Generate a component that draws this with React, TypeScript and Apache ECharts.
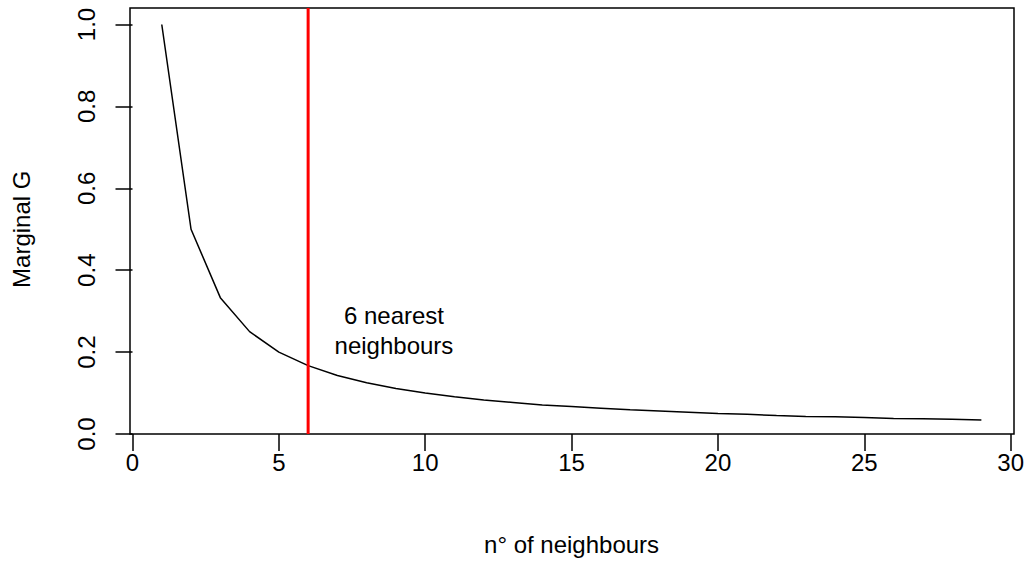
import React, { useEffect, useRef } from "react";
import * as echarts from "echarts";

const neighbours = [1, 2, 3, 4, 5, 6, 7, 8, 9, 10, 11, 12, 13, 14, 15, 16, 17, 18, 19, 20, 21, 22, 23, 24, 25, 26, 27, 28, 29];
const marginalG = [1.0, 0.5, 0.333, 0.25, 0.2, 0.167, 0.143, 0.125, 0.111, 0.1, 0.091, 0.083, 0.077, 0.071, 0.067, 0.063, 0.059, 0.056, 0.053, 0.05, 0.048, 0.045, 0.043, 0.042, 0.04, 0.038, 0.037, 0.036, 0.034];
const xTickStep = 5;
const yTickStep = 0.2;
const xRange = [0, 30];
const yRange = [0, 1];
const chosenK = 6;
const annotationText = "6 nearest\nneighbours";
const annotationPoint = [9, 0.25];
const xTitle = "n° of neighbours";
const yTitle = "Marginal G";

const FONT = "'Liberation Sans', Arial, Helvetica, sans-serif";
const BOX = { left: 130, top: 8, right: 1014, bottom: 434 };

export default function App() {
  const ref = useRef<HTMLDivElement>(null);
  useEffect(() => {
    document.body.style.margin = "0";
    if (!ref.current) return;
    const chart = echarts.init(ref.current, null, { renderer: "svg" });
    const option: any = {
      animation: false,
      backgroundColor: "#ffffff",
      grid: { left: 132.5, right: 16, top: 24.5, bottom: 128, containLabel: false },
      xAxis: {
        type: "value",
        min: xRange[0],
        max: xRange[1],
        interval: xTickStep,
        name: xTitle,
        nameLocation: "middle",
        nameGap: 98,
        nameTextStyle: { fontFamily: FONT, fontSize: 24, color: "#000" },
        axisLine: { show: false },
        axisTick: { show: true, inside: false, length: 17, lineStyle: { color: "#000", width: 1.5 } },
        axisLabel: { fontFamily: FONT, fontSize: 24, color: "#000", margin: 16 },
        splitLine: { show: false },
      },
      yAxis: {
        type: "value",
        min: yRange[0],
        max: yRange[1],
        interval: yTickStep,
        offset: 2.5,
        name: yTitle,
        nameLocation: "middle",
        nameGap: 97,
        nameRotate: 90,
        nameTextStyle: { fontFamily: FONT, fontSize: 24, color: "#000" },
        axisLine: { show: false },
        axisTick: { show: true, inside: false, length: 17, lineStyle: { color: "#000", width: 1.5 } },
        axisLabel: {
          fontFamily: FONT,
          fontSize: 24,
          color: "#000",
          rotate: 90,
          margin: 32,
          formatter: (v: number) => v.toFixed(1),
        },
        splitLine: { show: false },
      },
      series: [
        {
          type: "line",
          data: neighbours.map((n, i) => [n, marginalG[i]]),
          showSymbol: false,
          symbol: "none",
          lineStyle: { color: "#000", width: 1.5 },
          clip: false,
        },
      ],
    };
    chart.setOption(option);
    const px = chart.convertToPixel({ xAxisIndex: 0 }, chosenK) as number;
    const ap = chart.convertToPixel({ gridIndex: 0 }, annotationPoint) as number[];
    chart.setOption({
      graphic: [
        {
          type: "rect",
          shape: { x: BOX.left, y: BOX.top, width: BOX.right - BOX.left, height: BOX.bottom - BOX.top },
          style: { fill: "none", stroke: "#000", lineWidth: 1.5 },
          z: 10,
        },
        {
          type: "line",
          shape: { x1: px, y1: BOX.top, x2: px, y2: BOX.bottom },
          style: { stroke: "#ff0000", lineWidth: 3 },
          z: 11,
        },
        {
          type: "text",
          x: ap[0] - 2,
          y: ap[1] - 1,
          style: {
            text: annotationText,
            fontFamily: FONT,
            fontSize: 24,
            lineHeight: 30,
            fill: "#000",
            align: "center",
            verticalAlign: "middle",
          },
          z: 12,
        },
      ],
    });
    return () => chart.dispose();
  }, []);
  return <div ref={ref} style={{ width: 1027, height: 562 }} />;
}
